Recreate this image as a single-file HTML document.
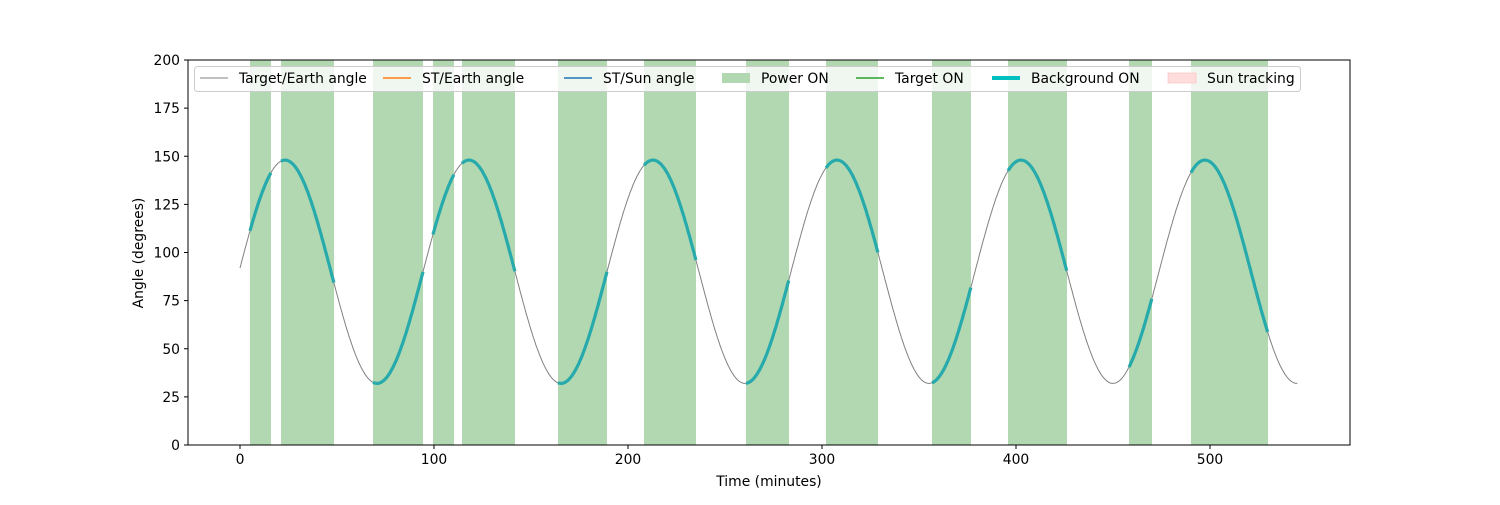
<!DOCTYPE html>
<html><head><meta charset="utf-8"><style>
body{margin:0;background:#fff;}
svg{font-family:"DejaVu Sans","Liberation Sans",sans-serif;}
</style></head><body>
<svg id="s" width="1500" height="500" xmlns="http://www.w3.org/2000/svg">
<rect width="1500" height="500" fill="#fff"/>
<g id="spans"></g>
<path id="gray" fill="none" stroke="#808080" stroke-width="1"/>
<g id="cy"></g>
<rect x="188" y="60" width="1162" height="385" fill="none" stroke="#000" stroke-width="1"/>
<g id="ticks" font-size="13.9" fill="#000"></g>
<text x="769" y="486" font-size="13.9" text-anchor="middle">Time (minutes)</text>
<text transform="translate(143,253) rotate(-90)" font-size="13.9" text-anchor="middle">Angle (degrees)</text>
<g font-size="13.9">
<rect x="194.5" y="66.5" width="1106" height="25" rx="3" fill="#fff" fill-opacity="0.8" stroke="#ccc"/>
<line x1="200" y1="78" x2="228" y2="78" stroke="#808080"/><text x="239" y="83">Target/Earth angle</text>
<line x1="383" y1="78" x2="411" y2="78" stroke="#ff7f0e" stroke-width="1.5"/><text x="422" y="83">ST/Earth angle</text>
<line x1="564" y1="78" x2="592" y2="78" stroke="#1f77b4" stroke-width="1.5"/><text x="603" y="83">ST/Sun angle</text>
<rect x="722" y="73" width="28" height="10" fill="#b2d8b2"/><text x="761" y="83">Power ON</text>
<line x1="856" y1="78" x2="884" y2="78" stroke="#2ca02c" stroke-width="1.5"/><text x="895" y="83">Target ON</text>
<line x1="992" y1="78" x2="1020" y2="78" stroke="#00bfbf" stroke-width="4"/><text x="1031" y="83">Background ON</text>
<rect x="1168" y="73" width="28" height="10" fill="#ffdddd" stroke="#ffb0b0" stroke-width="0.5"/><text x="1207" y="83">Sun tracking</text>
</g>
</svg>
<script>
var ns="http://www.w3.org/2000/svg";
function X(t){return 240+t*1.94;}
function Y(v){return 445-v*1.925;}
var P=94.84,ph=Math.PI/2-2*Math.PI*23.2/P;
function f(t){return 90+58*Math.sin(2*Math.PI*t/P+ph);}
var d="";for(var t=0;t<=545;t+=0.5){d+=(t?"L":"M")+X(t).toFixed(1)+","+Y(f(t)).toFixed(1);}
document.getElementById("gray").setAttribute("d",d);
var sp=[[250,271],[281,334],[373,423],[433,454],[462,515],[558,607],[644,696],[746,789],[826,878],[932,971],[1008,1067],[1129,1152],[1191,1268]];
var g=document.getElementById("spans"),c=document.getElementById("cy");
sp.forEach(function(s){
 var r=document.createElementNS(ns,"rect");r.setAttribute("x",s[0]);r.setAttribute("y",60);r.setAttribute("width",s[1]-s[0]);r.setAttribute("height",385);r.setAttribute("fill","#b2d8b2");g.appendChild(r);
 var a=(s[0]-240)/1.94,b=(s[1]-240)/1.94,dd="";
 for(var t=a;t<=b+0.001;t+=0.25){dd+=(t==a?"M":"L")+X(t).toFixed(1)+","+Y(f(t)).toFixed(1);}
 var p=document.createElementNS(ns,"path");p.setAttribute("d",dd);p.setAttribute("fill","none");p.setAttribute("stroke","#26aaac");p.setAttribute("stroke-width","3.2");c.appendChild(p);
});
var tk=document.getElementById("ticks"),h="";
for(var v=0;v<=500;v+=100){var x=X(v);h+='<line x1="'+x+'" y1="445" x2="'+x+'" y2="449" stroke="#000"/><text x="'+x+'" y="464" text-anchor="middle">'+v+'</text>';}
for(var v=0;v<=200;v+=25){var y=Y(v);h+='<line x1="184" y1="'+y+'" x2="188" y2="'+y+'" stroke="#000"/><text x="180" y="'+(y+5)+'" text-anchor="end">'+v+'</text>';}
tk.innerHTML=h;
</script>
</body></html>
